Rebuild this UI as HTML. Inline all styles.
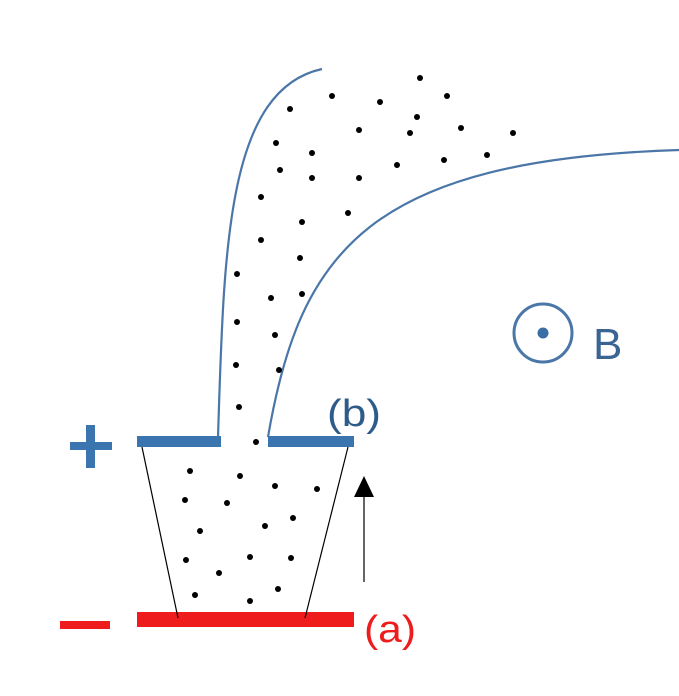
<html><body style="margin:0;background:#fff">
<svg width="679" height="696" xmlns="http://www.w3.org/2000/svg" style="display:block">
<g fill="none" stroke="#4a76a8" stroke-width="2.2">
<path d="M218,437 C224,250 226,90 322,69"/>
<path d="M268,437 C300,250 370,160 679,150"/>
<circle cx="543" cy="333" r="29" stroke-width="3"/>
</g>
<circle cx="543" cy="333" r="5.5" fill="#3b6ea5"/>
<text x="593" y="359" font-family="Liberation Sans, sans-serif" font-size="44" fill="#3a6593">B</text>
<rect x="137" y="436" width="84" height="11" fill="#3b75b0"/>
<rect x="268" y="436" width="86" height="11" fill="#3b75b0"/>
<rect x="137" y="612" width="217" height="15" fill="#ee1c1c"/>
<g stroke="#000" stroke-width="1.2">
<line x1="142" y1="447" x2="178" y2="618"/>
<line x1="348" y1="447" x2="305" y2="618"/>
<line x1="364" y1="582" x2="364" y2="492"/>
</g>
<polygon points="364,476 354,497 374,497" fill="#000"/>
<rect x="70" y="442" width="42" height="8" fill="#3b75b0"/>
<rect x="86" y="425" width="9" height="43" fill="#3b75b0"/>
<rect x="60" y="621" width="50" height="8" fill="#ee1c1c"/>
<text x="327" y="426" font-family="Liberation Sans, sans-serif" font-size="38" textLength="54" lengthAdjust="spacingAndGlyphs" fill="#2e5c8a">(b)</text>
<text x="364" y="642" font-family="Liberation Sans, sans-serif" font-size="38" textLength="52" lengthAdjust="spacingAndGlyphs" fill="#ee1c1c">(a)</text>
<g fill="#000">
<circle cx="420" cy="78" r="3"/><circle cx="332" cy="96" r="3"/><circle cx="380" cy="102" r="3"/><circle cx="447" cy="96" r="3"/>
<circle cx="290" cy="109" r="3"/><circle cx="417" cy="117" r="3"/><circle cx="359" cy="130" r="3"/><circle cx="410" cy="133" r="3"/>
<circle cx="461" cy="128" r="3"/><circle cx="513" cy="133" r="3"/><circle cx="276" cy="143" r="3"/><circle cx="312" cy="153" r="3"/>
<circle cx="280" cy="170" r="3"/><circle cx="312" cy="178" r="3"/><circle cx="359" cy="178" r="3"/><circle cx="397" cy="165" r="3"/>
<circle cx="444" cy="160" r="3"/><circle cx="487" cy="155" r="3"/><circle cx="261" cy="197" r="3"/><circle cx="348" cy="213" r="3"/>
<circle cx="302" cy="222" r="3"/><circle cx="261" cy="240" r="3"/><circle cx="300" cy="258" r="3"/><circle cx="237" cy="274" r="3"/>
<circle cx="271" cy="298" r="3"/><circle cx="302" cy="294" r="3"/><circle cx="237" cy="322" r="3"/><circle cx="275" cy="335" r="3"/>
<circle cx="236" cy="365" r="3"/><circle cx="279" cy="370" r="3"/><circle cx="239" cy="407" r="3"/><circle cx="256" cy="442" r="3"/>
<circle cx="190" cy="471" r="3"/><circle cx="240" cy="476" r="3"/><circle cx="275" cy="486" r="3"/><circle cx="317" cy="489" r="3"/>
<circle cx="185" cy="500" r="3"/><circle cx="227" cy="503" r="3"/><circle cx="200" cy="531" r="3"/><circle cx="265" cy="526" r="3"/>
<circle cx="293" cy="518" r="3"/><circle cx="186" cy="560" r="3"/><circle cx="250" cy="557" r="3"/><circle cx="291" cy="558" r="3"/>
<circle cx="219" cy="573" r="3"/><circle cx="195" cy="595" r="3"/><circle cx="278" cy="589" r="3"/><circle cx="250" cy="601" r="3"/>
</g>
</svg>
</body></html>
